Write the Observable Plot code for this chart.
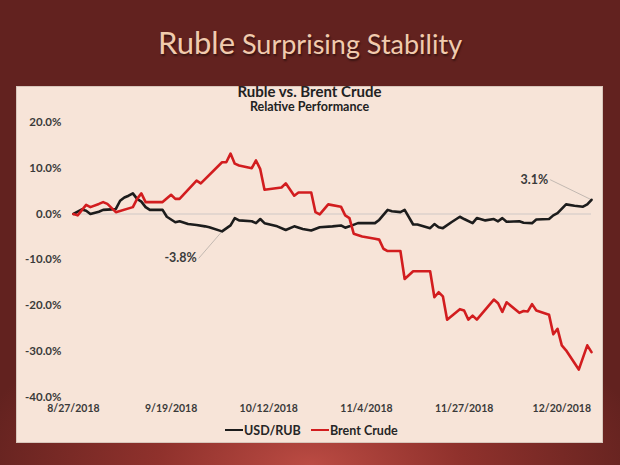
<!DOCTYPE html>
<html>
<head>
<meta charset="utf-8">
<script src="https://cdn.jsdelivr.net/npm/d3@7"></script>
<script src="https://cdn.jsdelivr.net/npm/@observablehq/plot@0.6"></script>
<style>
  html, body { margin: 0; padding: 0; }
  body {
    width: 620px; height: 465px; overflow: hidden; position: relative;
    background: radial-gradient(ellipse 340px 170px at 50% 100%, #bb4b43 0%, #8f312c 45%, #62221f 100%);
    background-color: #62221f;
    font-family: Lato, "Open Sans", sans-serif;
  }
  #title {
    position: absolute; left: 0; top: 22px; width: 620px; text-align: center;
    color: #f1cbae; font-size: 27px; line-height: 40px; font-weight: 400;
    text-shadow: 1px 2px 2px rgba(0,0,0,0.45);
  }
  #title .big { font-size: 31px; }
  #panel {
    position: absolute; left: 16px; top: 86px; width: 587px; height: 357px;
    box-sizing: border-box; background: #f7e4d8; border: 1px solid #d8c6bb;
  }
  #ctitle {
    position: absolute; left: 0; top: -4px; width: 100%; text-align: center;
    font-size: 15px; font-weight: 700; color: #222; line-height: 16px;
  }
  #csub {
    position: absolute; left: 0; top: 13px; width: 100%; text-align: center;
    font-size: 12.5px; font-weight: 700; color: #222; line-height: 14px;
  }
  #chart { position: absolute; left: -1px; top: 25px; }
  #chart svg text { font-weight: 700; }
  #legend {
    position: absolute; left: 0; top: 334px; width: 100%; height: 18px;
    font-size: 12.5px; font-weight: 700; color: #262626;
  }
  .item { position: absolute; top: 0; display: flex; align-items: center; height: 18px; }
  .swatch { display: inline-block; width: 18px; height: 2.5px; margin-right: 1px; }
</style>
</head>
<body>
<div id="title"><span class="big">Ruble</span> Surprising Stability</div>
<div id="panel">
  <div id="ctitle">Ruble vs. Brent Crude</div>
  <div id="csub">Relative Performance</div>
  <div id="chart"></div>
  <div id="legend"></div>
</div>
<script>
// ---- Data (relative performance, %) ----
const rubDates = ["2018-08-27","2018-08-28","2018-08-29","2018-08-30","2018-08-31","2018-09-02","2018-09-03","2018-09-05","2018-09-06","2018-09-07","2018-09-08","2018-09-09","2018-09-10","2018-09-11","2018-09-12","2018-09-13","2018-09-14","2018-09-17","2018-09-18","2018-09-20","2018-09-21","2018-09-23","2018-09-25","2018-09-27","2018-09-28","2018-10-01","2018-10-03","2018-10-04","2018-10-05","2018-10-08","2018-10-09","2018-10-10","2018-10-11","2018-10-14","2018-10-16","2018-10-18","2018-10-20","2018-10-22","2018-10-24","2018-10-27","2018-10-29","2018-10-30","2018-10-31","2018-11-02","2018-11-06","2018-11-07","2018-11-09","2018-11-10","2018-11-12","2018-11-13","2018-11-15","2018-11-16","2018-11-19","2018-11-20","2018-11-21","2018-11-22","2018-11-24","2018-11-26","2018-11-27","2018-11-29","2018-11-30","2018-12-02","2018-12-04","2018-12-05","2018-12-06","2018-12-07","2018-12-10","2018-12-11","2018-12-13","2018-12-14","2018-12-17","2018-12-18","2018-12-19","2018-12-21","2018-12-23","2018-12-25","2018-12-26","2018-12-27"];
const rubValues = [0.0,0.5,1.0,0.7,0.0,0.5,0.9,1.0,1.1,2.9,3.6,4.0,4.5,3.3,2.7,1.5,0.9,0.9,-0.6,-1.8,-1.6,-2.2,-2.4,-2.7,-2.9,-3.8,-2.5,-0.9,-1.4,-1.6,-2.0,-1.1,-2.0,-2.7,-3.5,-2.7,-3.3,-3.6,-2.9,-2.7,-2.5,-3.0,-2.7,-2.0,-2.0,-1.3,0.9,0.6,0.4,0.9,-2.3,-2.3,-3.1,-2.2,-2.9,-3.1,-1.8,-0.6,-1.1,-2.0,-0.9,-1.4,-1.1,-1.6,-0.9,-1.7,-1.6,-1.9,-2.0,-1.2,-1.1,-0.3,0.2,2.1,1.8,1.6,2.1,3.1];

const brentDates = ["2018-08-27","2018-08-28","2018-08-30","2018-08-31","2018-09-02","2018-09-03","2018-09-04","2018-09-06","2018-09-10","2018-09-11","2018-09-12","2018-09-13","2018-09-17","2018-09-19","2018-09-20","2018-09-21","2018-09-25","2018-09-26","2018-10-01","2018-10-02","2018-10-03","2018-10-04","2018-10-05","2018-10-08","2018-10-09","2018-10-10","2018-10-11","2018-10-15","2018-10-16","2018-10-18","2018-10-19","2018-10-22","2018-10-23","2018-10-24","2018-10-26","2018-10-29","2018-10-30","2018-10-31","2018-11-01","2018-11-03","2018-11-06","2018-11-07","2018-11-08","2018-11-09","2018-11-12","2018-11-13","2018-11-15","2018-11-19","2018-11-20","2018-11-21","2018-11-22","2018-11-23","2018-11-26","2018-11-27","2018-11-28","2018-11-29","2018-11-30","2018-12-04","2018-12-05","2018-12-06","2018-12-07","2018-12-10","2018-12-11","2018-12-12","2018-12-13","2018-12-14","2018-12-17","2018-12-18","2018-12-19","2018-12-20","2018-12-21","2018-12-24","2018-12-26","2018-12-27"];
const brentValues = [0.0,-0.3,2.0,1.5,2.2,2.6,2.2,0.4,1.5,3.3,4.5,2.6,2.6,4.2,3.3,3.3,7.3,6.7,11.3,11.3,13.2,11.0,10.6,10.0,11.7,9.8,5.3,5.8,6.7,4.0,4.7,4.7,0.4,-0.1,2.1,1.6,-0.3,-0.9,-4.3,-4.9,-5.4,-5.6,-7.6,-8.1,-8.1,-14.2,-12.5,-12.5,-18.2,-17.1,-18.0,-23.1,-20.8,-21.1,-23.1,-22.2,-23.1,-18.7,-19.5,-21.4,-19.3,-21.6,-21.2,-21.3,-19.7,-21.1,-22.0,-26.3,-25.1,-28.7,-29.8,-34.0,-28.7,-30.2];

const seriesNames = ["USD/RUB", "Brent Crude"];
const seriesColors = ["#1c1c1c", "#d21d1f"];

const xTickDates = ["2018-08-27","2018-09-19","2018-10-12","2018-11-04","2018-11-27","2018-12-20"];
const yTicks = [20, 10, 0, -10, -20, -30, -40];
const xDomain = ["2018-08-27", "2018-12-27"];

// annotations: point on USD/RUB series, and where the label sits
const annoPointDates = ["2018-10-01", "2018-12-27"];
const annoLabelDates = ["2018-09-25T12:00Z", "2018-12-17T06:00Z"];
const annoLabelValues = [-9.7, 7.5];

// ---- Build tables ----
const rub = rubDates.map((d, i) => ({date: new Date(d), value: rubValues[i], series: seriesNames[0]}));
const brent = brentDates.map((d, i) => ({date: new Date(d), value: brentValues[i], series: seriesNames[1]}));
const annos = annoPointDates.map((d, i) => {
  const v = rubValues[rubDates.indexOf(d)];
  return {
    date: new Date(d), value: v,
    ldate: new Date(annoLabelDates[i]), lvalue: annoLabelValues[i],
    label: v.toFixed(1) + "%"
  };
});

const fmtDate = d => `${d.getUTCMonth() + 1}/${d.getUTCDate()}/${d.getUTCFullYear()}`;

const chart = Plot.plot({
  width: 587,
  height: 320,
  marginLeft: 57,
  marginRight: 11,
  marginTop: 10,
  marginBottom: 35,
  style: {background: "transparent", fontFamily: "Lato, 'Open Sans', sans-serif", overflow: "visible"},
  x: {type: "utc", domain: xDomain.map(d => new Date(d))},
  y: {domain: [-40, 20]},
  marks: [
    Plot.axisY({ticks: yTicks, tickSize: 0, tickPadding: 12, fontSize: 11.5, fill: "#3a3a3a",
                tickFormat: d => d.toFixed(1) + "%", label: null}),
    Plot.axisX({ticks: xTickDates.map(d => new Date(d)), tickSize: 0, tickPadding: 8, fontSize: 10.5,
                fill: "#3a3a3a", tickFormat: fmtDate, label: null}),
    Plot.ruleY([0], {stroke: "#ddd2cc", strokeWidth: 1.3}),
    Plot.link(annos, {x1: "date", y1: "value", x2: "ldate", y2: "lvalue", stroke: "#bcb3ad", strokeWidth: 0.9}),
    Plot.text(annos, {x: "ldate", y: "lvalue", text: "label", textAnchor: "end", dx: -2, fontSize: 12.5, fill: "#3a3a3a"}),
    Plot.line(rub, {x: "date", y: "value", stroke: seriesColors[0], strokeWidth: 2.6, strokeLinejoin: "round"}),
    Plot.line(brent, {x: "date", y: "value", stroke: seriesColors[1], strokeWidth: 2.6, strokeLinejoin: "round"})
  ]
});
document.getElementById("chart").appendChild(chart);

// legend
const legend = document.getElementById("legend");
const legendLeft = [208, 294];
seriesNames.forEach((name, i) => {
  const it = document.createElement("div");
  it.className = "item";
  it.style.left = legendLeft[i] + "px";
  const sw = document.createElement("span");
  sw.className = "swatch";
  sw.style.background = seriesColors[i];
  it.appendChild(sw);
  it.appendChild(document.createTextNode(name));
  legend.appendChild(it);
});
</script>
</body>
</html>
